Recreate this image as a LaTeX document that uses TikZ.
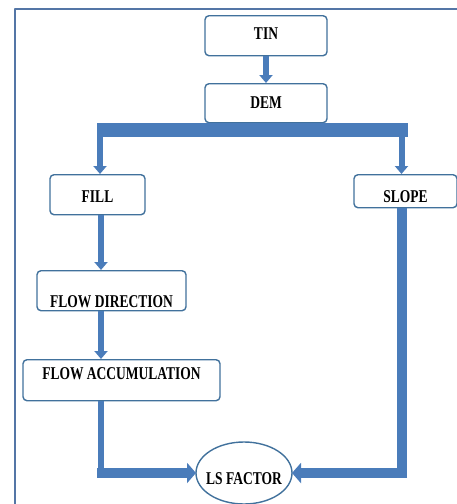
\documentclass[tikz,border=0pt]{standalone}
\usepackage{fontspec}
\setmainfont{Liberation Serif}
\newfontfamily\boxfont[FakeStretch=0.75]{Liberation Serif}
\usetikzlibrary{arrows.meta,shapes.geometric}
\begin{document}
\begin{tikzpicture}[x=1pt,y=-1pt,line join=round]
    \definecolor{boxline}{RGB}{65,113,156}
    \definecolor{pipeblue}{RGB}{74,124,186}
    \definecolor{framegrey}{RGB}{84,118,166}
    \tikzset{
        box/.style={draw=boxline,line width=1.4pt,rounded corners=4pt,fill=white,
            inner sep=0pt,anchor=north,
            font=\boxfont\bfseries\fontsize{18}{18}\selectfont},
        flow/.style={pipeblue,line width=6pt,-{Triangle[width=13pt,length=8pt]}},
        pipe/.style={pipeblue,line width=#1},
        fatflow/.style={pipeblue,line width=10pt,-{Triangle[width=20pt,length=9pt]}}
    }
    \useasboundingbox (0,0) rectangle (457,504);
    \draw[framegrey,line width=1.5pt] (15,504) |- (457,9);
    % boxes
    \node[box,minimum width=122pt,text height=24pt,text depth=16pt] (tin) at (266,15) {TIN};
    \node[box,minimum width=122pt,text height=25pt,text depth=14pt] (dem) at (266,83) {DEM};
    \node[box,minimum width=95pt,text height=28pt,text depth=12pt] (fill) at (97.5,174) {FILL};
    \node[box,minimum width=103pt,text height=28pt,text depth=5pt] (slope) at (405.5,174) {SLOPE};
    \node[box,minimum width=149pt,text height=37pt,text depth=3pt] (fdir) at (111.5,270) {FLOW DIRECTION};
    \node[box,minimum width=197pt,text height=20pt,text depth=21pt] (facc) at (121.5,359) {FLOW ACCUMULATION};
    \node[draw=boxline,line width=1.4pt,ellipse,minimum width=96pt,minimum height=62pt,
        inner xsep=-12pt,inner ysep=0pt,text height=22pt,text depth=0pt,outer sep=0pt,
        font=\boxfont\bfseries\fontsize{18}{18}\selectfont] (ls) at (244,473) {LS FACTOR};
    % connectors
    \coordinate (bl) at (100,130);
    \coordinate (br) at (401.5,130);
    \coordinate (cl) at (101,0);
    \coordinate (cr) at (402,0);
    \draw[flow] (tin.south) -- (dem.north);
    \draw[pipe=14pt] ([xshift=-3pt]bl) -- ([xshift=6.5pt]br);
    \draw[flow] ([yshift=-7pt]bl) -- (bl |- fill.north);
    \draw[flow] ([yshift=-7pt]br) -- (br |- slope.north);
    \draw[flow] (fill.south -| cl) -- (fdir.north -| cl);
    \draw[flow] (fdir.south -| cl) -- (facc.north -| cl);
    \draw[pipe=6pt] (facc.south -| cl) -- ([yshift=-5pt]ls.west -| cl);
    \draw[fatflow] ([xshift=-4pt]ls.west -| cl) -- (ls.west);
    \draw[pipe=10pt] (slope.south -| cr) -- ([yshift=-5pt]ls.east -| cr);
    \draw[fatflow] ([xshift=5pt]ls.east -| cr) -- (ls.east);
\end{tikzpicture}
\end{document}
